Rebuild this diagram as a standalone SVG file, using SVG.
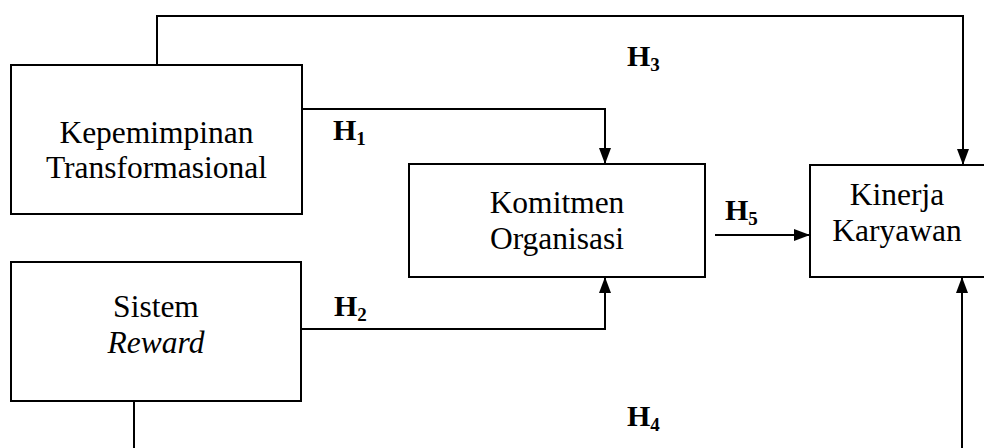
<svg xmlns="http://www.w3.org/2000/svg" width="984" height="448" viewBox="0 0 984 448">
<style>
.box{fill:#fff;stroke:#000;stroke-width:2}
.t{font-family:"Liberation Serif","Times New Roman",serif;font-size:31.5px;fill:#000;text-anchor:middle}
.h{font-family:"Liberation Serif","Times New Roman",serif;font-size:30px;font-weight:bold;fill:#000}
.s{font-size:19px}
.c{fill:none;stroke:#000;stroke-width:2}
</style>
<defs>
<marker id="a" viewBox="0 0 16 12" refX="16" refY="6" markerWidth="16" markerHeight="12" markerUnits="userSpaceOnUse" orient="auto">
<path d="M0,0 L16,6 L0,12 Z" fill="#000"/>
</marker>
</defs>
<rect width="984" height="448" fill="#fff"/>
<g id="connectors">
<path class="c" d="M157,66 V16 H963 V165" marker-end="url(#a)"/>
<path class="c" d="M302,109 H605 V164" marker-end="url(#a)"/>
<path class="c" d="M301,329 H605 V277" marker-end="url(#a)"/>
<path class="c" d="M715,235 H810" marker-end="url(#a)"/>
<path class="c" d="M134,401 V460 H962 V277" marker-end="url(#a)"/>
</g>
<g id="kepemimpinan">
<rect class="box" x="11" y="65" width="291" height="149"/>
<text class="t" x="156.5" y="143">Kepemimpinan</text>
<text class="t" x="156.5" y="178">Transformasional</text>
</g>
<g id="sistem-reward">
<rect class="box" x="11" y="262" width="290" height="139"/>
<text class="t" x="156" y="317">Sistem</text>
<text class="t" x="156" y="353" font-style="italic">Reward</text>
</g>
<g id="komitmen">
<rect class="box" x="409" y="164" width="296" height="113"/>
<text class="t" x="557" y="213">Komitmen</text>
<text class="t" x="557" y="249">Organisasi</text>
</g>
<g id="kinerja">
<rect class="box" x="810" y="165" width="180" height="112"/>
<text class="t" x="897" y="205">Kinerja</text>
<text class="t" x="897" y="241">Karyawan</text>
</g>
<g id="labels">
<text class="h" x="333" y="140">H<tspan class="s" dy="5">1</tspan></text>
<text class="h" x="334" y="316">H<tspan class="s" dy="5">2</tspan></text>
<text class="h" x="627" y="66">H<tspan class="s" dy="5">3</tspan></text>
<text class="h" x="627" y="426">H<tspan class="s" dy="5">4</tspan></text>
<text class="h" x="725" y="220">H<tspan class="s" dy="5">5</tspan></text>
</g>
</svg>
